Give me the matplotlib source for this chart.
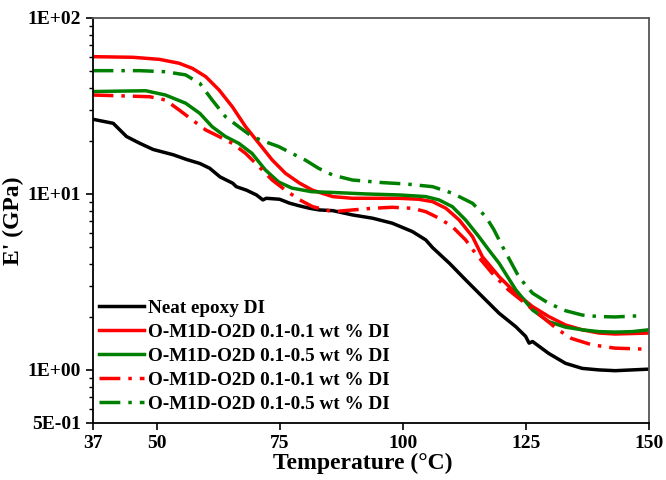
import matplotlib
matplotlib.use("Agg")
import matplotlib.pyplot as plt
from matplotlib.ticker import FixedLocator, FixedFormatter, LogLocator, NullFormatter

# temperature (C) / storage modulus (GPa)
neat_t = [37.0, 41.2, 43.9, 46.6, 49.3, 53.4, 56.1, 58.8, 60.8, 62.9, 65.5, 66.2, 68.3, 70.3,
          71.6, 72.3, 75.0, 77.1, 79.1, 81.1, 83.1, 85.8, 89.8, 93.9, 97.9, 102.0, 104.7,
          106.1, 109.5, 112.8, 116.2, 119.6, 123.0, 125.0, 125.7, 126.4, 129.7, 133.1,
          136.5, 139.9, 143.2, 146.6, 150.0]
neat_e = [26.6, 25.2, 21.2, 19.4, 17.9, 16.7, 15.7, 14.9, 14.0, 12.5, 11.5, 11.0, 10.5, 9.87,
          9.25, 9.45, 9.33, 8.85, 8.55, 8.29, 8.11, 8.04, 7.60, 7.28, 6.82, 6.11, 5.48,
          4.95, 4.04, 3.25, 2.61, 2.10, 1.76, 1.55, 1.42, 1.45, 1.24, 1.09,
          1.02, 1.00, 0.99, 1.00, 1.01]

red_t = [37.0, 45.2, 50.6, 54.6, 57.3, 60.0, 62.7, 65.4, 68.1, 70.8, 73.5, 76.2, 79.1, 81.7,
         85.8, 89.8, 93.9, 99.3, 103.3, 106.1, 108.8, 111.5, 114.2, 116.2, 119.6, 123.0,
         126.4, 129.7, 133.1, 136.5, 139.9, 143.2, 146.6, 150.0]
red_e = [60.3, 59.8, 58.2, 55.3, 51.7, 46.4, 39.0, 31.3, 24.1, 19.4, 15.6, 13.1, 11.5, 10.5,
         9.66, 9.45, 9.45, 9.45, 9.33, 9.04, 8.29, 7.11, 5.72, 4.40, 3.39, 2.73,
         2.29, 2.01, 1.80, 1.69, 1.62, 1.60, 1.61, 1.62]

green_t = [37.0, 47.8, 51.8, 55.9, 58.8, 61.3, 64.0, 66.7, 69.4, 72.1, 74.8, 77.5, 81.5,
           85.8, 92.6, 99.3, 104.7, 107.4, 110.1, 112.8, 115.5, 117.5, 119.6, 123.0, 126.4,
           129.7, 133.1, 136.5, 139.9, 143.2, 146.6, 150.0]
green_e = [38.2, 38.6, 36.5, 32.8, 28.7, 24.1, 21.2, 19.4, 17.0, 13.7, 11.7, 10.8, 10.3,
           10.2, 10.0, 9.87, 9.66, 9.25, 8.47, 7.11, 5.72, 4.81, 4.04, 2.85, 2.19,
           1.88, 1.75, 1.69, 1.65, 1.64, 1.65, 1.69]

red_dd_t = [37.0, 48.6, 51.8, 54.6, 57.3, 60.0, 62.7, 65.4, 68.1, 70.8, 73.5, 76.2, 79.1,
            81.7, 85.8, 89.8, 93.9, 97.9, 102.0, 104.7, 107.4, 110.1, 112.8, 114.8, 118.2,
            121.5, 124.9, 128.3, 131.6, 134.3, 138.4, 143.1, 150.0]
red_dd_e = [36.5, 35.7, 34.2, 30.0, 26.3, 23.1, 21.2, 19.4, 17.0, 14.3, 12.0, 10.5, 9.25,
            8.47, 7.93, 8.11, 8.29, 8.40, 8.29, 7.93, 7.28, 6.52, 5.48, 4.60, 3.54,
            2.85, 2.39, 2.01, 1.69, 1.51, 1.39, 1.33, 1.31]

green_dd_t = [37.0, 46.6, 51.8, 55.9, 58.8, 61.3, 64.0, 66.7, 69.4, 72.1, 74.8, 77.5, 80.2,
              82.9, 85.8, 89.8, 95.9, 100.6, 106.1, 110.1, 114.2, 116.9, 118.5, 120.5,
              123.7, 126.4, 129.7, 133.1, 136.5, 139.9, 143.2, 148.0]
green_dd_e = [50.2, 50.2, 49.5, 47.5, 42.5, 34.2, 27.5, 24.1, 21.2, 19.8, 18.6, 17.0, 15.6,
              14.0, 12.8, 12.0, 11.6, 11.4, 11.0, 10.1, 8.85, 7.43, 6.30, 4.90,
              3.35, 2.73, 2.39, 2.17, 2.05, 2.01, 2.00, 2.03]

labels = ["Neat epoxy DI",
          "O-M1D-O2D 0.1-0.1 wt % DI",
          "O-M1D-O2D 0.1-0.5 wt % DI",
          "O-M1D-O2D 0.1-0.1 wt % DI",
          "O-M1D-O2D 0.1-0.5 wt % DI"]
xticks = [37, 50, 75, 100, 125, 150]
yticks = [0.5, 1, 10, 100]
ytick_labels = ["5E-01", "1E+00", "1E+01", "1E+02"]

plt.rcParams["font.family"] = ["Liberation Serif", "DejaVu Serif"]
plt.rcParams["font.weight"] = "bold"

fig = plt.figure(figsize=(6.66, 4.8), dpi=100)
ax = fig.add_axes([0.139, 0.119, 0.835, 0.8435])

lw = 2.5
dd = (6, 2.3, 1, 2.3)
ax.plot(neat_t, neat_e, color="black", lw=lw, label=labels[0])
ax.plot(red_t, red_e, color="#ff0000", lw=lw, label=labels[1])
ax.plot(green_t, green_e, color="#008000", lw=lw, label=labels[2])
ax.plot(red_dd_t, red_dd_e, color="#ff0000", lw=lw, dashes=dd, label=labels[3])
ax.plot(green_dd_t, green_dd_e, color="#008000", lw=lw, dashes=dd, label=labels[4])

ax.set_yscale("log")
ax.set_xlim(37, 150)
ax.set_ylim(0.5, 100)
ax.xaxis.set_major_locator(FixedLocator(xticks))
ax.yaxis.set_major_locator(FixedLocator(yticks))
ax.yaxis.set_major_formatter(FixedFormatter(ytick_labels))
ax.yaxis.set_minor_locator(LogLocator(base=10, subs=range(2, 10)))
ax.yaxis.set_minor_formatter(NullFormatter())

ax.tick_params(axis="both", which="major", direction="out", length=5, width=1.2,
               labelsize=14, top=False, right=False)
ax.tick_params(axis="y", which="minor", direction="out", length=3, width=1, right=False)
for lab in ax.get_xticklabels() + ax.get_yticklabels():
    lab.set_fontweight("bold")

for side in ["left", "bottom"]:
    ax.spines[side].set_linewidth(1.3)
    ax.spines[side].set_color("black")
for side in ["top", "right"]:
    ax.spines[side].set_linewidth(1.3)
    ax.spines[side].set_color("#555555")

ax.set_xlabel("Temperature (\u00b0C)", fontsize=17, fontweight="bold", labelpad=1)
ax.xaxis.label.set_x(0.486)
ax.set_ylabel("E' (GPa)", fontsize=17, fontweight="bold", labelpad=2)

ax.legend(loc="lower left", bbox_to_anchor=(0.012, 0.025), frameon=False,
          handlelength=2.35, handletextpad=0.2, labelspacing=0.34, borderpad=0,
          borderaxespad=0, prop={"weight": "bold", "size": 13.8})

fig.savefig("out.png", dpi=100)
